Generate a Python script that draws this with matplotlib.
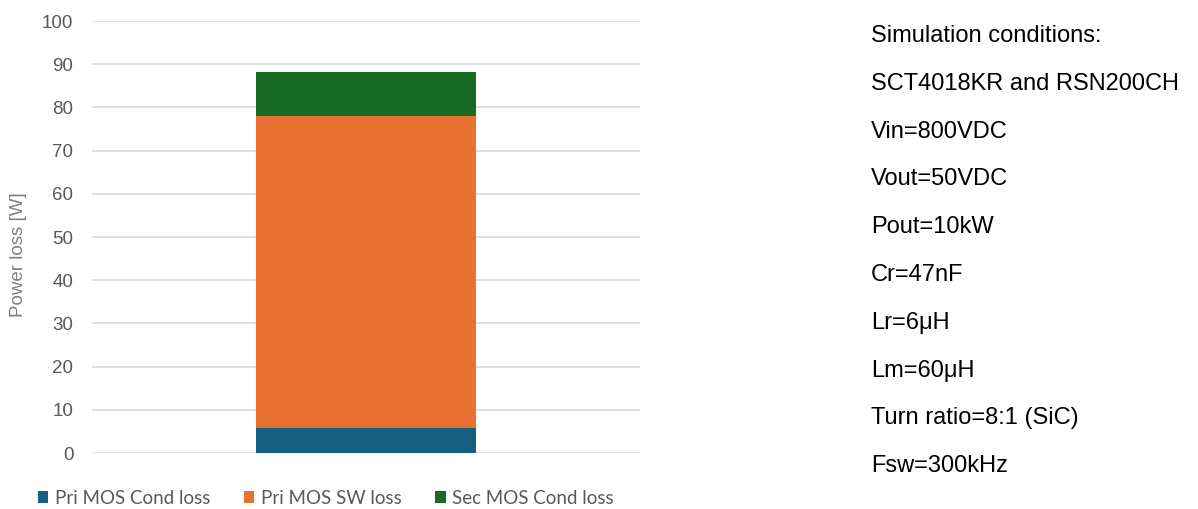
import matplotlib.pyplot as plt

# loss breakdown of the single operating point [W]
categories = ['']
pri_cond = [5.7]
pri_sw = [72.4]
sec_cond = [10.0]
series_names = ['Pri MOS Cond loss', 'Pri MOS SW loss', 'Sec MOS Cond loss']
conditions = [
    'Simulation conditions:',
    'SCT4018KR and RSN200CH',
    'Vin=800VDC',
    'Vout=50VDC',
    'Pout=10kW',
    'Cr=47nF',
    'Lr=6\u03bcH',
    'Lm=60\u03bcH',
    'Turn ratio=8:1 (SiC)',
    'Fsw=300kHz',
]

colors = ['#156082', '#E97132', '#196B24']
grey = '#595959'

fig = plt.figure(figsize=(11.98, 5.09), dpi=100)
ax = fig.add_axes([0.0768, 0.110, 0.4574, 0.8487])

x = range(len(categories))
b1 = ax.bar(x, pri_cond, width=0.4, color=colors[0], zorder=3)
bottom2 = [a for a in pri_cond]
b2 = ax.bar(x, pri_sw, width=0.4, bottom=bottom2, color=colors[1], zorder=3)
bottom3 = [a + b for a, b in zip(pri_cond, pri_sw)]
b3 = ax.bar(x, sec_cond, width=0.4, bottom=bottom3, color=colors[2], zorder=3)

ax.set_xlim(-0.5, 0.5)
ax.set_ylim(0, 100)
ax.set_yticks(range(0, 101, 10))
ax.set_xticks([])
ax.yaxis.grid(True, color='#D9D9D9', linewidth=1.2, zorder=0)
for s in ax.spines.values():
    s.set_visible(False)
ax.tick_params(axis='y', length=0, pad=13.5, labelsize=13.5, labelcolor=grey)
for lab in ax.get_yticklabels():
    lab.set_family('Liberation Sans')
ax.set_ylabel('Power loss [W]', fontsize=13.5, color='#7F7F7F',
              family='Liberation Sans')
# axis title anchored near the left edge of the figure
ax.yaxis.set_label_coords(27 / 1198, 0.5, transform=fig.transFigure)

fig.legend([b1, b2, b3], series_names, loc='center', ncol=3,
           bbox_to_anchor=(0.272, 0.0216), frameon=False,
           handlelength=0.55, handleheight=0.55, handletextpad=0.35,
           columnspacing=1.8, prop={'family': 'Lato', 'size': 13.5},
           labelcolor=grey)

# simulation parameters listed to the right of the chart
y0 = 1 - 36 / 509
step = 47.8 / 509
for i, line in enumerate(conditions):
    fig.text(871 / 1198, y0 - i * step, line, fontsize=17,
             family='Liberation Sans', color='black', va='center', ha='left')

fig.savefig('out.png', dpi=100)
